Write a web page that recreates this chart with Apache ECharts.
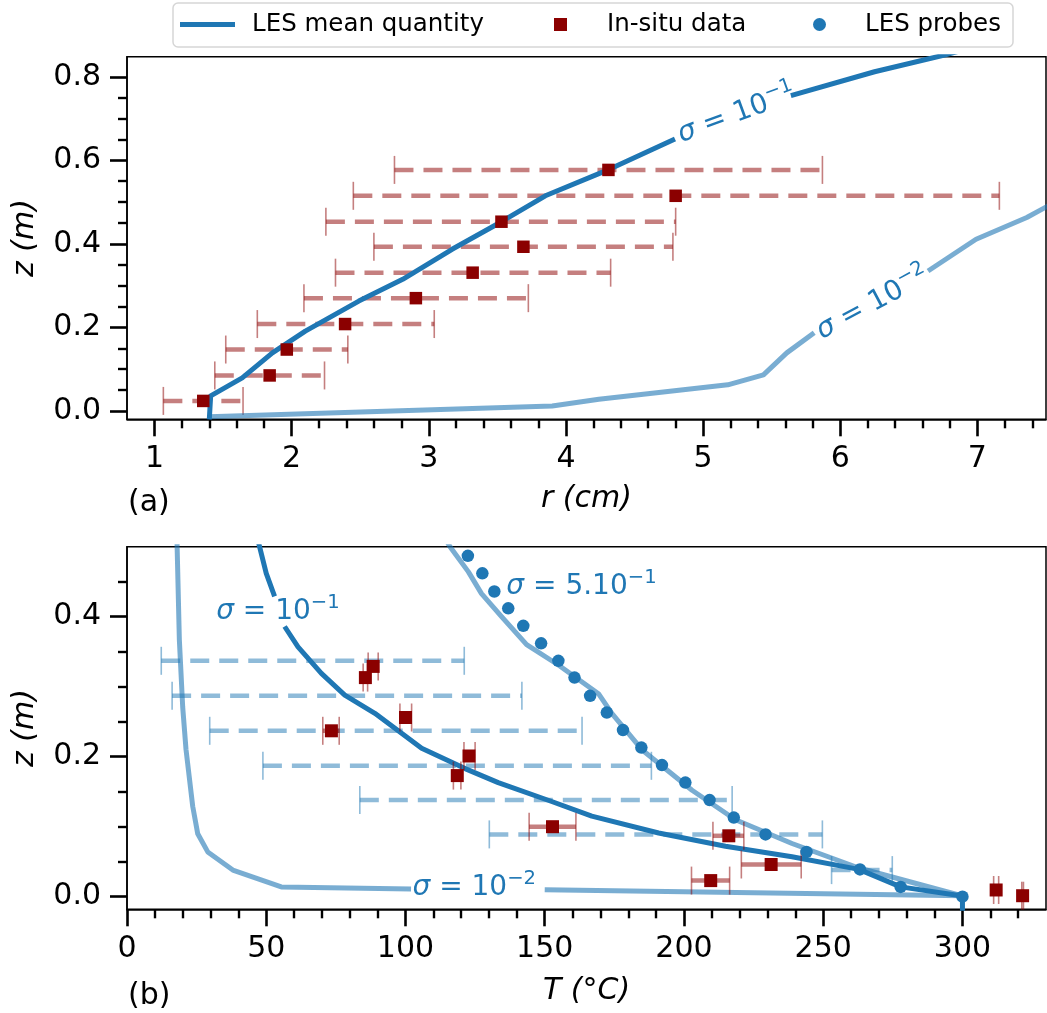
<!DOCTYPE html>
<html>
<head>
<meta charset="utf-8">
<script src="https://cdn.jsdelivr.net/npm/echarts@6/dist/echarts.min.js"></script>
<style>
  html, body { margin: 0; padding: 0; background: #fff; }
  #chart { width: 1047px; height: 1013px; }
</style>
</head>
<body>
<div id="chart"></div>
<script>
// ===== Panel (a): plume radius r (cm) against height z (m) =====
// LES mean radius, sigma = 1e-1 (null = break under the inline label)
const radMeanR = [1.40, 1.41, 1.64, 1.86, 2.10, 2.49, 2.81, 3.17, 3.53, 3.85, 4.32, 4.795, null, 5.64, 6.25, 6.76, 6.92];
const radMeanZ = [-0.02, 0.036, 0.079, 0.139, 0.191, 0.263, 0.315, 0.387, 0.453, 0.515, 0.579, 0.651, null, 0.755, 0.812, 0.852, 0.866];
// LES mean radius, sigma = 1e-2
const radLowR = [1.40, 3.90, 4.24, 5.18, 5.44, 5.61, 5.81, null, 6.64, 6.99, 7.36, 7.55];
const radLowZ = [-0.014, 0.012, 0.028, 0.0625, 0.0865, 0.139, 0.187, null, 0.335, 0.411, 0.463, 0.497];
// in-situ radius measurements with their spread
const obsRadR   = [1.356, 1.84, 1.965, 2.39, 2.906, 3.32, 3.69, 3.53, 4.80, 4.31];
const obsRadZ   = [0.024, 0.085, 0.147, 0.208, 0.270, 0.331, 0.393, 0.453, 0.515, 0.577];
const obsRadLo  = [1.065, 1.44, 1.52, 1.75, 2.09, 2.32, 2.60, 2.25, 2.45, 2.75];
const obsRadHi  = [1.646, 2.24, 2.41, 3.04, 3.726, 4.326, 4.78, 4.80, 7.16, 5.87];
const radTicks  = [1, 2, 3, 4, 5, 6, 7];
const zTicksA   = [0, 0.2, 0.4, 0.6, 0.8];

// ===== Panel (b): temperature T (°C) against height z (m) =====
// LES mean temperature, sigma = 1e-2
const tempLowT = [17.9, 18.0, 18.8, 20.0, 21.2, 23.6, 25.4, 29.0, 38.0, 55.4, 102, null, 150, 300];
const tempLowZ = [0.52, 0.50, 0.367, 0.271, 0.21, 0.129, 0.09, 0.064, 0.038, 0.014, 0.011, null, 0.0098, 0.0014];
// LES mean temperature, sigma = 1e-1
const tempMeanT = [47.0, 47.6, 50.0, 53.0, null, 56.6, 61.4, 69.8, 78.2, 89.0, 105.8, 121.4, 133.3, 152.5, 166.9, 190.9, 214.9, 238.8, 262.8, 277.8, 300, 300];
const tempMeanZ = [0.51, 0.50, 0.462, 0.429, null, 0.386, 0.357, 0.319, 0.288, 0.262, 0.212, 0.183, 0.163, 0.136, 0.115, 0.091, 0.072, 0.057, 0.039, 0.014, 0.001, -0.02];
// LES mean temperature, sigma = 5e-1
const tempHighT = [114.5, 116, 122.6, 127.3, 134.5, 143.5, 154.9, 169.3, 174.1, 184.9, 202.9, 218.5, 238.8, 262.8, 300];
const tempHighZ = [0.51, 0.50, 0.464, 0.433, 0.40, 0.36, 0.331, 0.29, 0.262, 0.21, 0.152, 0.11, 0.076, 0.041, 0.001];
// LES probe temperatures
const probeT = [300, 277.8, 263.2, 244, 229.3, 217.9, 209.2, 200.5, 192.1, 184.7, 178.1, 172.3, 166.3, 160.7, 154.9, 148.7, 142.3, 136.9, 131.9, 127.6, 122.4];
const probeZ = [0, 0.014, 0.039, 0.064, 0.089, 0.113, 0.138, 0.163, 0.188, 0.213, 0.238, 0.263, 0.287, 0.313, 0.337, 0.362, 0.387, 0.412, 0.436, 0.462, 0.487];
// LES temperature spread
const lesSpreadZ  = [0.337, 0.287, 0.237, 0.187, 0.138, 0.089, 0.038];
const lesSpreadLo = [12.3, 16.2, 29.7, 48.8, 83.6, 130.1, 253];
const lesSpreadHi = [121.1, 141.8, 163.4, 188.3, 217.3, 249.7, 274.8];
// in-situ temperature measurements with their spread
const obsTempT  = [88.4, 85.6, 73.4, 100, 122.8, 118.6, 152.8, 216.1, 231.3, 209.6, 312.1, 321.6];
const obsTempZ  = [0.329, 0.313, 0.237, 0.256, 0.201, 0.173, 0.100, 0.087, 0.046, 0.023, 0.0096, 0.0014];
const obsTempLo = [86.6, 84.8, 70.3, 98.0, 121.0, 117.2, 144.4, 210.4, 220.6, 202.7, 311.2, 321.3];
const obsTempHi = [90.2, 86.4, 76.2, 102.2, 125.0, 119.9, 161.2, 221.5, 242.1, 216.4, 313.0, 321.9];
const tempTicks = [0, 50, 100, 150, 200, 250, 300];
const zTicksB   = [0, 0.2, 0.4];

// inline curve labels
const curveLabels = [
  { x: 5.24, z: 0.716, sigma: '10', exp: '\u22121', panel: 0, rotate: 20 },
  { x: 6.23, z: 0.262, sigma: '10', exp: '\u22122', panel: 0, rotate: 28 },
  { x: 54.2, z: 0.410, sigma: '10', exp: '\u22121', panel: 1, rotate: 0 },
  { x: 163.2, z: 0.446, sigma: '5.10', exp: '\u22121', panel: 1, rotate: 0 },
  { x: 124.7, z: 0.016, sigma: '10', exp: '\u22122', panel: 1, rotate: 0 }
];

const FONT = 'DejaVu Sans';
const BLUE = '#1f77b4';
const BLUE_LIGHT = 'rgba(31,119,180,0.6)';
const BLUE_BAR = 'rgba(31,119,180,0.5)';
const RED = '#8b0000';
const RED_BAR = 'rgba(139,0,0,0.5)';

const pairs = (xs, ys) => xs.map((x, i) => (x === null ? ['-', '-'] : [x, ys[i]]));

function spreadRender(color, width, dash) {
  return function (params, api) {
    const z = api.value(2);
    const a = api.coord([api.value(0), z]);
    const b = api.coord([api.value(1), z]);
    const cap = 14;
    return {
      type: 'group',
      children: [
        { type: 'line', shape: { x1: a[0], y1: a[1], x2: b[0], y2: b[1] },
          style: { stroke: color, lineWidth: width, lineDash: dash } },
        { type: 'line', shape: { x1: a[0], y1: a[1] - cap, x2: a[0], y2: a[1] + cap },
          style: { stroke: color, lineWidth: 1.6 } },
        { type: 'line', shape: { x1: b[0], y1: b[1] - cap, x2: b[0], y2: b[1] + cap },
          style: { stroke: color, lineWidth: 1.6 } }
      ]
    };
  };
}

function spreadSeries(name, lo, hi, z, color, dash, gi) {
  return {
    name: name, type: 'custom', xAxisIndex: gi, yAxisIndex: gi,
    renderItem: spreadRender(color, 4.5, dash),
    encode: { x: [0, 1], y: 2 },
    data: lo.map((v, i) => [v, hi[i], z[i]]),
    silent: true, z: 1
  };
}

function curve(name, xs, ys, color, width, gi, z) {
  return {
    name: name, type: 'line', xAxisIndex: gi, yAxisIndex: gi,
    data: pairs(xs, ys), showSymbol: false, symbol: 'none',
    connectNulls: false, clip: true,
    lineStyle: { color: color, width: width, cap: 'butt', join: 'round' },
    itemStyle: { color: color },
    silent: true, z: z
  };
}

function xAxisCfg(gi, min, max, ticks, name, opts) {
  return Object.assign({
    type: 'value', gridIndex: gi, min: min, max: max,
    name: name, nameLocation: 'middle', nameGap: 65,
    nameTextStyle: { fontFamily: FONT, fontSize: 30, fontStyle: 'italic', color: '#000' },
    axisLine: { show: true, onZero: false, lineStyle: { color: '#000', width: 1.5 } },
    axisTick: { show: true, inside: false, length: 17, customValues: ticks, lineStyle: { color: '#000', width: 2.6 } },
    minorTick: { show: true, splitNumber: 5, length: 9, lineStyle: { color: '#000', width: 2.4 } },
    axisLabel: { customValues: ticks, margin: 25, fontFamily: FONT, fontSize: 30, color: '#000' },
    splitLine: { show: false }, minorSplitLine: { show: false }
  }, opts);
}

function yAxisCfg(gi, min, max, ticks) {
  return {
    type: 'value', gridIndex: gi, min: min, max: max,
    minInterval: 0.2, maxInterval: 0.2, splitNumber: 4,
    name: 'z (m)', nameLocation: 'middle', nameGap: 87,
    nameTextStyle: { fontFamily: FONT, fontSize: 30, fontStyle: 'italic', color: '#000' },
    axisLine: { show: true, onZero: false, lineStyle: { color: '#000', width: 1.5 } },
    axisTick: { show: true, inside: false, length: 17, customValues: ticks, lineStyle: { color: '#000', width: 2.6 } },
    minorTick: { show: true, splitNumber: 4, length: 9, lineStyle: { color: '#000', width: 2.4 } },
    axisLabel: { customValues: ticks, margin: 26, fontFamily: FONT, fontSize: 30, color: '#000',
      formatter: v => v.toFixed(1) },
    splitLine: { show: false }, minorSplitLine: { show: false }
  };
}

const labelRich = {
  s: { fontFamily: FONT, fontSize: 28, fontStyle: 'italic', color: BLUE, opacity: 1, verticalAlign: 'bottom' },
  t: { fontFamily: FONT, fontSize: 28, color: BLUE, opacity: 1, verticalAlign: 'bottom' },
  p: { fontFamily: FONT, fontSize: 19.6, color: BLUE, opacity: 1, verticalAlign: 'bottom', padding: [0, 0, 13, 0] }
};

function labelSeries(gi) {
  return {
    name: 'curve labels ' + gi, type: 'scatter', xAxisIndex: gi, yAxisIndex: gi,
    symbolSize: 0, silent: true, z: 10,
    itemStyle: { color: BLUE, opacity: 1 },
    data: curveLabels.filter(l => l.panel === gi).map(l => ({
      value: [l.x, l.z],
      label: {
        show: true, position: 'inside', rotate: l.rotate,
        color: BLUE, opacity: 1, textBorderWidth: 0,
        formatter: '{s|\u03c3}{t| = ' + l.sigma + '}{p|' + l.exp + '}',
        rich: labelRich
      }
    }))
  };
}

const chart = echarts.init(document.getElementById('chart'), null, { renderer: 'canvas' });

chart.setOption({
  animation: false,
  backgroundColor: '#fff',
  textStyle: { fontFamily: FONT },
  grid: [
    { left: 127, top: 56.7, width: 919, height: 362.6, show: true, borderColor: '#000', borderWidth: 1.5, backgroundColor: 'transparent' },
    { left: 127, top: 546.7, width: 919, height: 362.6, show: true, borderColor: '#000', borderWidth: 1.5, backgroundColor: 'transparent' }
  ],
  xAxis: [
    xAxisCfg(0, 0.8, 7.5, radTicks, 'r (cm)', { minInterval: 1, maxInterval: 1, splitNumber: 7 }),
    xAxisCfg(1, 0, 330, tempTicks, 'T (\u00b0C)', { interval: 50, nameGap: 67 })
  ],
  yAxis: [
    yAxisCfg(0, -0.02, 0.848, zTicksA),
    yAxisCfg(1, -0.018, 0.5, zTicksB)
  ],
  title: [
    { text: '(a)', left: 128, top: 488, padding: 0, textStyle: { fontFamily: FONT, fontSize: 30, fontWeight: 'normal', color: '#000' } },
    { text: '(b)', left: 128, top: 981, padding: 0, textStyle: { fontFamily: FONT, fontSize: 30, fontWeight: 'normal', color: '#000' } }
  ],
  graphic: [
    { type: 'rect', shape: { x: 173, y: 3, width: 840, height: 44, r: 5 },
      style: { fill: '#fff', stroke: '#d6d6d6', lineWidth: 1.5 }, z: 0, silent: true }
  ],
  legend: [
    { data: [{ name: 'LES mean quantity', icon: 'rect', itemStyle: { color: BLUE } }],
      left: 180, top: 12, padding: 0, itemWidth: 55, itemHeight: 5, selectedMode: false,
      textStyle: { fontFamily: FONT, fontSize: 24.5, color: '#000', padding: [0, 0, 0, 12] } },
    { data: [{ name: 'In-situ data', icon: 'rect', itemStyle: { color: RED } }],
      left: 554, top: 12, padding: 0, itemWidth: 13, itemHeight: 13, selectedMode: false,
      textStyle: { fontFamily: FONT, fontSize: 24.5, color: '#000', padding: [0, 0, 0, 35] } },
    { data: [{ name: 'LES probes', icon: 'circle', itemStyle: { color: BLUE } }],
      left: 813, top: 12, padding: 0, itemWidth: 13, itemHeight: 13, selectedMode: false,
      textStyle: { fontFamily: FONT, fontSize: 24.5, color: '#000', padding: [0, 0, 0, 34] } }
  ],
  series: [
    // panel (a)
    spreadSeries('radius spread', obsRadLo, obsRadHi, obsRadZ, RED_BAR, [19, 10], 0),
    curve('LES mean quantity', radMeanR, radMeanZ, BLUE, 5, 0, 3),
    curve('radius sigma 1e-2', radLowR, radLowZ, BLUE_LIGHT, 5, 0, 2),
    {
      name: 'In-situ data', type: 'scatter', xAxisIndex: 0, yAxisIndex: 0,
      symbol: 'rect', symbolSize: 12.5, itemStyle: { color: RED, opacity: 1 },
      data: pairs(obsRadR, obsRadZ), silent: true, z: 5
    },
    labelSeries(0),
    // panel (b)
    spreadSeries('LES temperature spread', lesSpreadLo, lesSpreadHi, lesSpreadZ, BLUE_BAR, [19, 10], 1),
    curve('temperature sigma 1e-2', tempLowT, tempLowZ, BLUE_LIGHT, 5, 1, 2),
    curve('temperature sigma 5e-1', tempHighT, tempHighZ, BLUE_LIGHT, 5, 1, 2),
    curve('LES mean quantity', tempMeanT, tempMeanZ, BLUE, 5, 1, 3),
    Object.assign(spreadSeries('temperature spread', obsTempLo, obsTempHi, obsTempZ, RED_BAR, null, 1), { z: 4 }),
    {
      name: 'In-situ data', type: 'scatter', xAxisIndex: 1, yAxisIndex: 1,
      symbol: 'rect', symbolSize: 13, itemStyle: { color: RED, opacity: 1 },
      data: pairs(obsTempT, obsTempZ), silent: true, z: 5
    },
    {
      name: 'LES probes', type: 'scatter', xAxisIndex: 1, yAxisIndex: 1,
      symbol: 'circle', symbolSize: 12.5, itemStyle: { color: BLUE, opacity: 1 },
      data: pairs(probeT, probeZ), silent: true, z: 6
    },
    labelSeries(1)
  ]
});
</script>
</body>
</html>
